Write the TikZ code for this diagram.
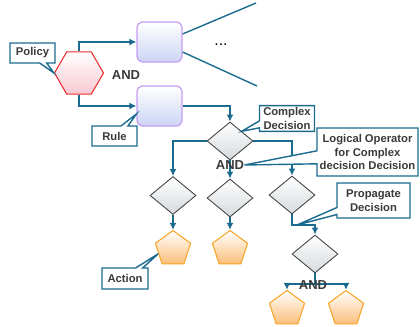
\documentclass[tikz,border=0pt]{standalone}
\usepackage{fontspec}
\setmainfont{Liberation Sans}
\usepackage{tikz}
\usetikzlibrary{shapes.geometric,shapes.callouts,arrows.meta}

\definecolor{linkblue}{RGB}{27,107,143}
\definecolor{textgray}{RGB}{58,58,58}
\definecolor{hexred}{RGB}{238,43,43}
\definecolor{hexpink}{RGB}{249,201,210}
\definecolor{boxviolet}{RGB}{200,155,242}
\definecolor{boxblue}{RGB}{204,213,245}
\definecolor{diagray}{RGB}{68,68,68}
\definecolor{diafill}{RGB}{213,218,221}
\definecolor{pentorange}{RGB}{247,166,39}
\definecolor{pentfill}{RGB}{251,190,122}

\newcommand{\labfont}{\fontsize{6.4}{7.9}\selectfont\bfseries}
\newcommand{\andfont}{\fontsize{7.4}{8}\selectfont\bfseries}

\tikzset{
  link/.style={draw=linkblue, line width=0.8pt},
  note/.style={rectangle callout, draw=linkblue, line width=0.8pt, fill=white,
    font=\labfont, text=textgray, align=center, inner sep=1pt,
    callout pointer width=0.14cm},
  hexnode/.style={regular polygon, regular polygon sides=6, minimum size=0.98cm,
    inner sep=0pt, draw=hexred, line width=0.6pt, top color=white, bottom color=hexpink},
  rulebox/.style={rectangle, rounded corners=0.12cm, minimum width=0.9cm,
    minimum height=0.8cm, draw=boxviolet, line width=0.7pt, top color=white,
    bottom color=boxblue},
  decision/.style={diamond, minimum width=0.92cm, minimum height=0.76cm, inner sep=0pt,
    draw=diagray, line width=0.5pt, top color=white, bottom color=diafill},
  action/.style={regular polygon, regular polygon sides=5, minimum size=0.74cm,
    inner sep=0pt, draw=pentorange, line width=0.6pt, top color=white,
    bottom color=pentfill},
  andlabel/.style={font=\andfont, text=textgray, inner sep=0pt}
}

\begin{document}
\begin{tikzpicture}[x=0.02cm,y=-0.02cm,>={Latex[length=4pt,width=4pt]}]
\useasboundingbox (0,0) rectangle (420,327);

\node[hexnode] (policy) at (79,73) {};
\node[rulebox] (box1) at (159.5,42) {};
\node[rulebox] (box2) at (159.5,106) {};
\node[decision] (complex) at (230,141) {};
\node[decision] (d1) at (173,195.5) {};
\node[decision] (d2) at (230,198) {};
\node[decision] (d3) at (292,195) {};
\node[decision] (d4) at (315,254) {};
\node[action] (p1) at (173,249) {};
\node[action] (p2) at (230,249) {};
\node[action] (p4) at (287,309) {};
\node[action] (p5) at (346,309) {};

\coordinate (far1) at (256,3);
\coordinate (far2) at (257,86);
\coordinate (bend) at (303,225);
\coordinate (split) at (315,284);

\draw[link,->] (policy.north) |- (box1.west);
\draw[link,->] (policy.south) |- (box2.west);
\draw[link] ([yshift=0.16cm]box1.east) -- (far1);
\draw[link] ([yshift=-0.2cm]box1.east) -- (far2);
\draw[link,->] (box2.east) -| (complex.north);
\draw[link,->] (complex.west) -| (d1.north);
\draw[link,->] (complex.east) -| (d3.north);
\draw[link,->] (complex.south) -- (d2.north);
\draw[link,->] (d1.south) -- (p1.north);
\draw[link,->] (d2.south) -- (p2.north);
\draw[link,->] (d3.south) |- (bend) -| (d4.north);
\draw[link] (d4.south) -- (split);
\draw[link,->] (split) -| (p4.north);
\draw[link,->] (split) -| (p5.north);

\node[andlabel] (and1) at (126,75) {AND};
\node[andlabel] (and2) at (230,165) {AND};
\node[andlabel] (and3) at (313,285) {AND};
\node[font=\fontsize{9}{9}\selectfont] (more) at (221,45) {...};

\node[note, minimum width=0.9cm, minimum height=0.4cm,
  callout absolute pointer={(policy.west)}] (policynote) at (32.5,53) {Policy};
\node[note, minimum width=0.9cm, minimum height=0.4cm,
  callout absolute pointer={([yshift=-0.16cm]box2.west)}] (rulenote) at (114.5,136) {Rule};
\node[note, minimum width=1.1cm, minimum height=0.5cm,
  callout absolute pointer={(complex.north east)}] (complexnote) at (287,118.5) {Complex\\Decision};
\node[note, minimum width=2.02cm, minimum height=0.96cm, callout pointer width=0.26cm,
  callout absolute pointer={(and2.east)}] (lognote) at (367.5,152) {Logical Operator\\for Complex\\decision Decision};
\node[note, minimum width=1.46cm, minimum height=0.7cm,
  callout absolute pointer={([xshift=-0.12cm]bend)}] (propnote) at (373.5,200.5) {Propagate\\Decision};
\node[note, minimum width=0.92cm, minimum height=0.42cm,
  callout absolute pointer={(p1.side 2)}] (actionnote) at (125,278.5) {Action};
\end{tikzpicture}
\end{document}
